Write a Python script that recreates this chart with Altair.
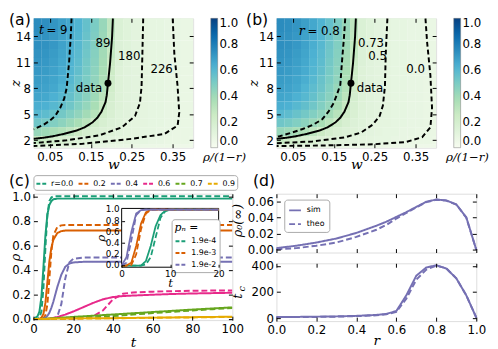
import altair as alt
import pandas as pd

SANS = "DejaVu Sans"
SERIF = "DejaVu Serif"
DARK2 = ["#1b9e77", "#d95f02", "#7570b3", "#e7298a", "#66a61e", "#e6ab02"]
GNBU = ["#f7fcf0", "#e0f3db", "#ccebc5", "#a8ddb5", "#7bccc4", "#4eb3d3", "#2b8cbe", "#0868ac", "#084081"]
GNBU_STOPS = [0, 0.125, 0.25, 0.375, 0.5, 0.625, 0.75, 0.875, 1.0]

# ---------------- (a)/(b): heat map of rho/(1-r) ----------------
w_centers = [0.02, 0.04, 0.06, 0.08, 0.10, 0.12, 0.14, 0.16, 0.18, 0.20,
             0.22, 0.24, 0.26, 0.28, 0.30, 0.32, 0.34, 0.36, 0.38, 0.40]
z_levels = [16, 15, 14, 13, 12, 11, 10, 9, 8, 7, 6, 5, 4, 3, 2, 1]
heat_rows = [
    [0.75, 0.74, 0.72, 0.69, 0.66, 0.62, 0.56, 0.50, 0.42, 0.30, 0.16, 0.13, 0.11, 0.10, 0.09, 0.09, 0.08, 0.08, 0.07, 0.07],
    [0.75, 0.74, 0.72, 0.69, 0.66, 0.62, 0.56, 0.50, 0.42, 0.30, 0.16, 0.13, 0.11, 0.10, 0.09, 0.09, 0.08, 0.08, 0.07, 0.07],
    [0.74, 0.73, 0.71, 0.68, 0.65, 0.61, 0.55, 0.49, 0.41, 0.29, 0.16, 0.13, 0.11, 0.10, 0.09, 0.09, 0.08, 0.08, 0.07, 0.07],
    [0.74, 0.73, 0.71, 0.68, 0.64, 0.60, 0.54, 0.48, 0.40, 0.28, 0.15, 0.13, 0.11, 0.10, 0.09, 0.09, 0.08, 0.08, 0.07, 0.07],
    [0.73, 0.72, 0.70, 0.67, 0.63, 0.59, 0.53, 0.47, 0.39, 0.27, 0.15, 0.13, 0.11, 0.10, 0.09, 0.09, 0.08, 0.08, 0.07, 0.07],
    [0.72, 0.71, 0.69, 0.66, 0.62, 0.58, 0.52, 0.46, 0.38, 0.25, 0.15, 0.12, 0.11, 0.10, 0.09, 0.09, 0.08, 0.08, 0.07, 0.07],
    [0.71, 0.70, 0.68, 0.65, 0.61, 0.57, 0.51, 0.45, 0.37, 0.24, 0.14, 0.12, 0.11, 0.10, 0.09, 0.09, 0.08, 0.08, 0.07, 0.07],
    [0.70, 0.69, 0.67, 0.64, 0.60, 0.55, 0.50, 0.44, 0.36, 0.23, 0.14, 0.12, 0.11, 0.10, 0.09, 0.09, 0.08, 0.08, 0.07, 0.07],
    [0.69, 0.68, 0.66, 0.62, 0.58, 0.54, 0.48, 0.42, 0.34, 0.22, 0.14, 0.12, 0.11, 0.10, 0.09, 0.09, 0.08, 0.08, 0.07, 0.07],
    [0.67, 0.66, 0.63, 0.60, 0.56, 0.51, 0.46, 0.40, 0.31, 0.20, 0.14, 0.12, 0.11, 0.10, 0.09, 0.09, 0.08, 0.08, 0.07, 0.07],
    [0.64, 0.63, 0.60, 0.57, 0.53, 0.48, 0.43, 0.37, 0.27, 0.18, 0.14, 0.12, 0.11, 0.10, 0.09, 0.09, 0.08, 0.08, 0.07, 0.07],
    [0.60, 0.58, 0.55, 0.52, 0.48, 0.44, 0.39, 0.32, 0.22, 0.17, 0.13, 0.12, 0.11, 0.10, 0.09, 0.09, 0.08, 0.08, 0.07, 0.07],
    [0.53, 0.51, 0.48, 0.45, 0.41, 0.37, 0.31, 0.23, 0.18, 0.15, 0.13, 0.11, 0.10, 0.10, 0.09, 0.09, 0.08, 0.08, 0.07, 0.07],
    [0.42, 0.40, 0.37, 0.34, 0.30, 0.25, 0.20, 0.17, 0.15, 0.14, 0.12, 0.11, 0.10, 0.09, 0.09, 0.08, 0.08, 0.07, 0.07, 0.07],
    [0.28, 0.24, 0.21, 0.19, 0.17, 0.15, 0.14, 0.13, 0.12, 0.11, 0.10, 0.10, 0.09, 0.09, 0.08, 0.08, 0.07, 0.07, 0.07, 0.06],
    [0.10, 0.10, 0.09, 0.09, 0.09, 0.08, 0.08, 0.08, 0.08, 0.07, 0.07, 0.07, 0.07, 0.06, 0.06, 0.06, 0.06, 0.05, 0.05, 0.05],
]

# solid "data" contour (shared by both panels)
data_w = [0.204, 0.202, 0.197, 0.192, 0.189, 0.186, 0.176, 0.166, 0.154, 0.135, 0.115, 0.085, 0.058, 0.035, 0.010]
data_z = [16.05, 13.9, 10.85, 8.58, 7.2, 6.4, 5.3, 4.6, 4.06, 3.5, 3.12, 2.75, 2.47, 2.3, 2.17]
# (a) time contours
t9_w = [0.103, 0.101, 0.097, 0.094, 0.091, 0.085, 0.076, 0.063, 0.048, 0.035, 0.010]
t9_z = [16.05, 14.0, 11.0, 9.5, 8.0, 6.8, 5.8, 4.8, 4.2, 3.8, 3.25]
t180_w = [0.278, 0.276, 0.274, 0.270, 0.258, 0.226, 0.170, 0.091, 0.010]
t180_z = [16.05, 12.0, 8.2, 6.3, 4.8, 3.5, 2.56, 2.0, 1.68]
t226_w = [0.350, 0.354, 0.362, 0.366, 0.362, 0.330, 0.250, 0.130, 0.010]
t226_z = [16.05, 12.0, 8.2, 5.2, 3.7, 2.74, 2.17, 1.6, 1.34]
# (b) r contours
r08_w = [0.178, 0.175, 0.170, 0.166, 0.158, 0.150, 0.137, 0.122, 0.100, 0.074, 0.045, 0.018, 0.010]
r08_z = [16.05, 13.9, 11.0, 8.4, 7.3, 6.32, 5.3, 4.43, 3.8, 3.3, 2.85, 2.47, 2.42]
r05_w = [0.281, 0.277, 0.275, 0.270, 0.262, 0.245, 0.217, 0.177, 0.098, 0.010]
r05_z = [16.05, 12.0, 8.2, 6.0, 4.8, 3.8, 2.9, 2.34, 1.87, 1.66]
r00_w = [0.374, 0.378, 0.386, 0.390, 0.386, 0.366, 0.326, 0.246, 0.120, 0.010]
r00_z = [16.05, 13.3, 9.5, 5.75, 3.49, 2.36, 1.8, 1.54, 1.40, 1.34]

dot_w = [0.192]
dot_z = [8.58]

a_ital = ["t"]; a_ital_w = [0.030]; a_ital_z = [14.7]
a_lab = ["= 9", "89", "180", "226"]
a_lab_w = [0.0674, 0.180, 0.244, 0.323]
a_lab_z = [14.7, 13.22, 11.75, 10.17]
a_data_w = [0.178]; a_data_z = [8.0]

b_ital = ["r"]; b_ital_w = [0.072]; b_ital_z = [14.58]
b_lab = ["= 0.8", "0.73", "0.5", "0.0"]
b_lab_w = [0.1253, 0.241, 0.257, 0.350]
b_lab_z = [14.58, 13.22, 11.75, 10.17]
b_data_w = [0.206]; b_data_z = [8.0]

# ---------------- (c): rho(t) ----------------
t_main = [0, 2, 3, 4, 5, 6, 7, 8, 9, 10, 12, 14, 16, 18, 20, 25, 30, 35, 40, 45, 50, 60, 70, 80, 90, 100]
r_labels = ["r=0.0", "0.2", "0.4", "0.6", "0.7", "0.9"]
sim_c = [
    [0, 0.02, 0.06, 0.18, 0.42, 0.68, 0.85, 0.93, 0.96, 0.975, 0.98, 0.98, 0.98, 0.98, 0.98, 0.98, 0.98, 0.98, 0.98, 0.98, 0.98, 0.98, 0.98, 0.98, 0.98, 0.98],
    [0, 0, 0, 0.01, 0.04, 0.13, 0.30, 0.47, 0.58, 0.645, 0.70, 0.715, 0.72, 0.72, 0.72, 0.72, 0.72, 0.72, 0.72, 0.72, 0.72, 0.72, 0.72, 0.72, 0.72, 0.72],
    [0, 0, 0, 0, 0, 0.01, 0.025, 0.05, 0.09, 0.14, 0.26, 0.36, 0.425, 0.45, 0.46, 0.465, 0.465, 0.465, 0.465, 0.465, 0.465, 0.465, 0.465, 0.465, 0.465, 0.465],
    [0, 0, 0, 0, 0, 0, 0, 0.002, 0.005, 0.008, 0.015, 0.025, 0.035, 0.048, 0.06, 0.095, 0.13, 0.16, 0.178, 0.186, 0.19, 0.197, 0.203, 0.207, 0.21, 0.213],
    [0, 0, 0, 0, 0.001, 0.002, 0.003, 0.004, 0.005, 0.006, 0.008, 0.01, 0.012, 0.014, 0.016, 0.021, 0.026, 0.031, 0.036, 0.041, 0.046, 0.056, 0.066, 0.076, 0.085, 0.094],
    [0, 0, 0, 0, 0, 0, 0, 0.001, 0.001, 0.001, 0.002, 0.002, 0.002, 0.003, 0.003, 0.004, 0.005, 0.005, 0.006, 0.007, 0.008, 0.01, 0.012, 0.014, 0.016, 0.018],
]
theo_c = [
    [0, 0, 0.01, 0.06, 0.25, 0.58, 0.85, 0.96, 0.99, 1.0, 1.0, 1.0, 1.0, 1.0, 1.0, 1.0, 1.0, 1.0, 1.0, 1.0, 1.0, 1.0, 1.0, 1.0, 1.0, 1.0],
    [0, 0, 0, 0, 0.005, 0.03, 0.12, 0.33, 0.55, 0.68, 0.75, 0.762, 0.765, 0.765, 0.765, 0.765, 0.765, 0.765, 0.765, 0.765, 0.765, 0.765, 0.765, 0.765, 0.765, 0.765],
    [0, 0, 0, 0, 0, 0, 0, 0, 0, 0, 0.02, 0.12, 0.33, 0.46, 0.49, 0.50, 0.50, 0.50, 0.50, 0.50, 0.50, 0.50, 0.50, 0.50, 0.50, 0.50],
    [0, 0, 0, 0, 0, 0, 0, 0, 0, 0, 0, 0, 0, 0, 0.001, 0.005, 0.02, 0.07, 0.16, 0.205, 0.215, 0.222, 0.226, 0.229, 0.231, 0.232],
    [0, 0, 0, 0, 0, 0, 0, 0, 0, 0, 0.002, 0.003, 0.004, 0.005, 0.006, 0.009, 0.013, 0.018, 0.023, 0.029, 0.035, 0.047, 0.058, 0.069, 0.079, 0.088],
    [0, 0, 0, 0, 0, 0, 0, 0, 0, 0, 0.001, 0.001, 0.001, 0.002, 0.002, 0.003, 0.004, 0.004, 0.005, 0.006, 0.007, 0.009, 0.011, 0.012, 0.014, 0.016],
]
# inset
t_in = [0, 1, 2, 3, 4, 5, 6, 7, 8, 9, 10, 11, 12, 14, 16, 18, 20]
pn_labels = ["1.9e-4", "1.9e-3", "1.9e-2"]
pn_colors = ["#1b9e77", "#d95f02", "#7570b3"]
sim_in = [
    [0, 0, 0, 0, 0, 0.08, 0.35, 0.70, 0.90, 0.98, 1, 1, 1, 1, 1, 1, 1],
    [0, 0, 0.05, 0.35, 0.75, 0.95, 1, 1, 1, 1, 1, 1, 1, 1, 1, 1, 1],
    [0, 0.15, 0.60, 0.93, 0.99, 1, 1, 1, 1, 1, 1, 1, 1, 1, 1, 1, 1],
]
theo_in = [
    [0, 0, 0, 0, 0, 0.02, 0.15, 0.50, 0.85, 0.97, 1, 1, 1, 1, 1, 1, 1],
    [0, 0, 0.01, 0.20, 0.65, 0.93, 0.99, 1, 1, 1, 1, 1, 1, 1, 1, 1, 1],
    [0, 0.05, 0.45, 0.90, 0.99, 1, 1, 1, 1, 1, 1, 1, 1, 1, 1, 1, 1],
]
inset_t_dom = [0, 20]
inset_rho_dom = [-0.03, 1.02]
inset_rho_ticks = [0.0, 0.2, 0.4, 0.6, 0.8, 1.0]
inset_rho_tick_text = ["0.0", "0.2", "0.4", "0.6", "0.8", "1.0"]

# ---------------- (d) ----------------
r_d = [0, 0.1, 0.2, 0.3, 0.4, 0.5, 0.55, 0.6, 0.65, 0.7, 0.75, 0.8, 0.85, 0.9, 0.95, 1.0]
rho_sim = [0.002, 0.005, 0.009, 0.014, 0.021, 0.030, 0.035, 0.041, 0.047, 0.0535, 0.060, 0.0628, 0.0616, 0.0567, 0.0405, 0.0]
rho_theo = [0.0005, 0.002, 0.005, 0.009, 0.016, 0.025, 0.031, 0.039, 0.046, 0.053, 0.0595, 0.0625, 0.0614, 0.0565, 0.040, 0.0]
tc_sim = [10, 10, 12, 14, 18, 25, 33, 55, 175, 325, 388, 405, 380, 305, 175, 5]
tc_theo = [8, 9, 10, 12, 16, 22, 30, 48, 150, 295, 372, 402, 382, 305, 175, 5]

# ---------------- sizes ----------------
WA, HA = 163, 132
WC, HC = 203, 129
WD, HD1, HD2 = 204, 60, 59
TICK = 4


def ax_left(values, fmt, title, tx, ty, xpos=0, tick=TICK, fs=12, tfs=14, lp=3, labels=True):
    off = -(xpos + tick)
    return alt.Axis(values=values, format=fmt, title=title, orient="left", offset=off,
                    tickSize=tick, domain=False, grid=False, labels=labels, labelPadding=lp,
                    labelFontSize=fs, labelFont=SANS, labelFlush=False, labelOverlap=False,
                    labelColor="black", tickColor="black", zindex=1,
                    titleX=tx - (xpos + tick), titleY=ty, titleAngle=270, titleAlign="center",
                    titleBaseline="middle", titleFont=SERIF, titleFontStyle="italic",
                    titleFontWeight="normal", titleFontSize=tfs, titleColor="black")


def ax_bottom(values, fmt, title, tx, ty, height, ypos=None, tick=TICK, fs=12, tfs=14, lp=4, labels=True):
    if ypos is None:
        ypos = height
    off = ypos - tick - height
    gy = ypos - tick
    kw = dict(values=values, format=fmt, orient="bottom", offset=off, tickSize=tick,
              domain=False, grid=False, labels=labels, labelPadding=lp, labelFontSize=fs,
              labelFont=SANS, labelFlush=False, labelOverlap=False, labelColor="black",
              tickColor="black", zindex=1)
    if title:
        kw.update(title=title, titleX=tx, titleY=ty - gy, titleAlign="center", titleBaseline="middle",
                  titleFont=SERIF, titleFontStyle="italic", titleFontWeight="normal",
                  titleFontSize=tfs, titleColor="black")
    else:
        kw.update(title=None)
    return alt.Axis(**kw)


def ax_far(orient, values):
    # inward ticks on the top / right frame edges
    return alt.Axis(orient=orient, values=values, offset=-TICK, tickSize=TICK, labels=False,
                    domain=False, grid=False, title=None, zindex=1, tickColor="black")


def far_ticks(xscale, yscale, xvals, yvals):
    xd = xscale.domain
    yd = yscale.domain
    df = pd.DataFrame({"x": list(xd), "y": list(yd)})
    return alt.Chart(df).mark_point(opacity=0, size=1).encode(
        x=alt.X("x:Q", scale=xscale, axis=ax_far("top", xvals)),
        y=alt.Y("y:Q", scale=yscale, axis=ax_far("right", yvals)),
    )


def letter(txt, dx, dy):
    return alt.Chart(pd.DataFrame({"s": [txt]})).mark_text(
        align="left", baseline="top", fontSize=16, font=SANS, color="black"
    ).encode(x=alt.value(dx), y=alt.value(dy), text="s:N")


# ---------- heat panels ----------
cells = pd.DataFrame([
    dict(w0=w - 0.0102, w1=w + 0.0102, z0=z - 0.51, z1=z + 0.51, v=heat_rows[i][j])
    for i, z in enumerate(z_levels) for j, w in enumerate(w_centers)
])
XW = alt.Scale(domain=[0.01, 0.40], nice=False, zero=False)
YZ = alt.Scale(domain=[1.15, 16.05], nice=False, zero=False)
CSC = alt.Scale(domain=GNBU_STOPS, range=GNBU, interpolate="rgb")
W_TICKS = [0.05, 0.15, 0.25, 0.35]
Z_TICKS = [2, 5, 8, 11, 14]


def cdf(name, ws, zs, style):
    return pd.DataFrame({"w": ws, "z": zs, "idx": list(range(len(ws))), "name": name, "style": style})


def heat_panel(conts, ital, ital_w, ital_z, labs, labs_w, labs_z, dw, dz, dalign, let, let_dx, ztx):
    rect = alt.Chart(cells).mark_rect(clip=True, strokeWidth=0).encode(
        x=alt.X("w0:Q", scale=XW, axis=ax_bottom(W_TICKS, ".2f", "w", WA / 2, 149, HA)),
        x2="w1:Q",
        y=alt.Y("z0:Q", scale=YZ, axis=ax_left(Z_TICKS, "d", "z", ztx, 66, tfs=13)),
        y2="z1:Q",
        color=alt.Color("v:Q", scale=CSC, legend=alt.Legend(
            type="gradient", orient="none", legendX=173, legendY=0, direction="vertical",
            gradientLength=HA, gradientThickness=7, values=[0, 0.2, 0.4, 0.6, 0.8, 1.0], format=".1f",
            labelFontSize=12, labelFont=SANS, labelOffset=2, labelBaseline="middle",
            labelColor="black", gradientStrokeColor="#777", gradientStrokeWidth=0.5,
            title="\u03c1/(1\u2212r)", titleOrient="bottom", titleAnchor="middle",
            titleFont=SERIF, titleFontStyle="italic", titleFontWeight="normal",
            titleFontSize=12, titlePadding=5, titleColor="black", padding=0)),
    )
    cont_df = pd.concat(conts, ignore_index=True)
    XN = alt.X("w:Q", scale=XW, axis=None)
    YN = alt.Y("z:Q", scale=YZ, axis=None)
    lines = alt.Chart(cont_df).mark_line(color="black", strokeWidth=2, clip=True).encode(
        x=XN, y=YN, detail="name:N", order="idx:Q",
        strokeDash=alt.StrokeDash("style:N", scale=alt.Scale(domain=["solid", "dashed"], range=[[1, 0], [5, 3]]), legend=None),
    )
    dot = alt.Chart(pd.DataFrame({"w": dot_w, "z": dot_z})).mark_point(
        filled=True, color="black", size=50, opacity=1).encode(x=XN, y=YN)
    it = alt.Chart(pd.DataFrame({"w": ital_w, "z": ital_z, "s": ital})).mark_text(
        font=SERIF, fontStyle="italic", fontSize=13, color="black", baseline="middle").encode(
        x=XN, y=YN, text="s:N")
    pl = alt.Chart(pd.DataFrame({"w": labs_w, "z": labs_z, "s": labs})).mark_text(
        font=SANS, fontSize=12, color="black", baseline="middle").encode(
        x=XN, y=YN, text="s:N")
    dl = alt.Chart(pd.DataFrame({"w": dw, "z": dz, "s": ["data"]})).mark_text(
        font=SANS, fontSize=12, color="black", baseline="middle", align=dalign).encode(
        x=XN, y=YN, text="s:N")
    return alt.layer(rect, lines, dot, it, pl, dl, far_ticks(XW, YZ, W_TICKS, Z_TICKS),
                     letter(let, let_dx, -6)).resolve_axis(x="independent", y="independent").properties(width=WA, height=HA)


panel_a = heat_panel(
    [cdf("d", data_w, data_z, "solid"), cdf("t9", t9_w, t9_z, "dashed"),
     cdf("t180", t180_w, t180_z, "dashed"), cdf("t226", t226_w, t226_z, "dashed")],
    a_ital, a_ital_w, a_ital_z, a_lab, a_lab_w, a_lab_z, a_data_w, a_data_z, "right", "(a)", -25, -18.5)
panel_b = heat_panel(
    [cdf("d", data_w, data_z, "solid"), cdf("r08", r08_w, r08_z, "dashed"),
     cdf("r05", r05_w, r05_z, "dashed"), cdf("r00", r00_w, r00_z, "dashed")],
    b_ital, b_ital_w, b_ital_z, b_lab, b_lab_w, b_lab_z, b_data_w, b_data_z, "left", "(b)", -31, -23)

# ---------- panel (c) ----------
rows = []
for k, lab in enumerate(r_labels):
    for t, a, b in zip(t_main, sim_c[k], theo_c[k]):
        rows.append(dict(t=t, rho=a, lab=lab, kind="sim"))
        rows.append(dict(t=t, rho=b, lab=lab, kind="theo"))
df_c = pd.DataFrame(rows)
DASH = alt.Scale(domain=["sim", "theo"], range=[[1, 0], [6, 3]])
XT = alt.Scale(domain=[0, 100], nice=False)
YR = alt.Scale(domain=[-0.01, 1.02], nice=False, zero=False)
T_TICKS = [0, 20, 40, 60, 80, 100]
RHO_TICKS = [0, 0.2, 0.4, 0.6, 0.8, 1.0]

main_lines = alt.Chart(df_c).mark_line(strokeWidth=2, clip=True).encode(
    x=alt.X("t:Q", scale=XT, axis=ax_bottom(T_TICKS, "d", "t", WC / 2, 152, HC)),
    y=alt.Y("rho:Q", scale=YR, axis=ax_left(RHO_TICKS, ".1f", "\u03c1", -18.5, HC / 2, tfs=13)),
    color=alt.Color("lab:N", scale=alt.Scale(domain=r_labels, range=DARK2), legend=alt.Legend(
        orient="none", legendX=0, legendY=-19, direction="horizontal", columns=6, title=None,
        symbolType="stroke", symbolDash=[4, 2], symbolStrokeWidth=2, symbolSize=121,
        labelFontSize=8, labelFont=SANS, labelColor="black", labelOffset=3, columnPadding=1,
        padding=2, strokeColor="#aaaaaa", fillColor="white", cornerRadius=3)),
    strokeDash=alt.StrokeDash("kind:N", scale=DASH, legend=None),
)

rows = []
for k, lab in enumerate(pn_labels):
    for t, a, b in zip(t_in, sim_in[k], theo_in[k]):
        rows.append(dict(t=t, rho=a, lab=lab, kind="sim"))
        rows.append(dict(t=t, rho=b, lab=lab, kind="theo"))
df_in = pd.DataFrame(rows)
IX = alt.Scale(domain=inset_t_dom, range=[90, 189], nice=False)
IY = alt.Scale(domain=inset_rho_dom, range=[75, 15], nice=False, zero=False)
box_df = pd.DataFrame({"x0": [inset_t_dom[0]], "x1": [inset_t_dom[1]],
                       "y0": [inset_rho_dom[0]], "y1": [inset_rho_dom[1]]})
inset_bg = alt.Chart(box_df).mark_rect(fill="white", stroke="black", strokeWidth=1).encode(
    x=alt.X("x0:Q", scale=IX, axis=ax_bottom([0, 10, 20], "d", "t", 139.5, 91, HC, ypos=75, tick=3, fs=9, tfs=12, lp=2)),
    x2="x1:Q",
    y=alt.Y("y0:Q", scale=IY, axis=ax_left(RHO_TICKS, ".1f", "\u03c1", 69, 45, xpos=90, tick=3, fs=9, tfs=12, lp=2, labels=False)),
    y2="y1:Q",
)
inset_ylab = alt.Chart(pd.DataFrame({
    "t": [inset_t_dom[0]] * len(inset_rho_ticks), "rho": inset_rho_ticks, "s": inset_rho_tick_text,
})).mark_text(align="right", baseline="middle", dx=-2, fontSize=9, font=SANS, color="black").encode(
    x=alt.X("t:Q", scale=IX), y=alt.Y("rho:Q", scale=IY), text="s:N")
inset_lines = alt.Chart(df_in).mark_line(strokeWidth=1.8).encode(
    x=alt.X("t:Q", scale=IX), y=alt.Y("rho:Q", scale=IY),
    color=alt.Color("lab:N", scale=alt.Scale(domain=pn_labels, range=pn_colors), legend=alt.Legend(
        orient="none", legendX=141, legendY=26, direction="vertical", title="p\u2099 =",
        titleFont=SERIF, titleFontStyle="italic", titleFontWeight="normal", titleFontSize=11,
        titleColor="black", titlePadding=2,
        symbolType="stroke", symbolDash=[4, 2], symbolStrokeWidth=2, symbolSize=121,
        labelFontSize=8, labelFont=SANS, labelColor="black", labelOffset=4, rowPadding=1,
        padding=3, strokeColor="#aaaaaa", fillColor="white", cornerRadius=3)),
    strokeDash=alt.StrokeDash("kind:N", scale=DASH, legend=None),
)
inset = alt.layer(inset_bg, inset_lines, inset_ylab)
panel_c = alt.layer(main_lines, far_ticks(XT, YR, T_TICKS, RHO_TICKS), inset, letter("(c)", -25, -21)).resolve_scale(
    x="independent", y="independent", color="independent").properties(width=WC, height=HC)

# ---------- panel (d) ----------
df_d = pd.DataFrame({
    "r": r_d * 2,
    "rho": rho_sim + rho_theo,
    "tc": tc_sim + tc_theo,
    "kind": ["sim"] * len(r_d) + ["theo"] * len(r_d),
})
XR = alt.Scale(domain=[0, 1], nice=False)
R_TICKS = [0, 0.2, 0.4, 0.6, 0.8, 1.0]
Y0 = alt.Scale(domain=[-0.0035, 0.07], nice=False, zero=False)
Y0_TICKS = [0, 0.02, 0.04, 0.06]
YT = alt.Scale(domain=[-22, 420], nice=False, zero=False)
YT_TICKS = [0, 200, 400]
d1 = alt.layer(
    alt.Chart(df_d).mark_line(strokeWidth=2, color="#7570b3").encode(
        x=alt.X("r:Q", scale=XR, axis=ax_bottom(R_TICKS, ".1f", None, 0, 0, HD1, labels=False)),
        y=alt.Y("rho:Q", scale=Y0, axis=ax_left(Y0_TICKS, ".2f", "\u03c1\u2080(\u221e)", -40, 27, tfs=13)),
        strokeDash=alt.StrokeDash("kind:N", scale=DASH, legend=alt.Legend(
            orient="none", legendX=8, legendY=6, title=None, symbolType="stroke",
            symbolStrokeColor="#7570b3", symbolStrokeWidth=2, symbolSize=144,
            labelFontSize=8, labelFont=SANS, labelColor="black", labelOffset=5, rowPadding=3,
            padding=4, strokeColor="#aaaaaa", fillColor="white", cornerRadius=3)),
    ),
    far_ticks(XR, Y0, R_TICKS, Y0_TICKS),
    letter("(d)", -24, -21),
).resolve_axis(x="independent", y="independent").properties(width=WD, height=HD1)

sub_c = alt.Chart(pd.DataFrame({"s": ["c"]})).mark_text(
    font=SERIF, fontStyle="italic", fontSize=10, angle=270, color="black").encode(
    x=alt.value(-35), y=alt.value(26), text="s:N")
d2 = alt.layer(
    alt.Chart(df_d).mark_line(strokeWidth=2, color="#7570b3").encode(
        x=alt.X("r:Q", scale=XR, axis=ax_bottom(R_TICKS, ".1f", "r", WD / 2, 79, HD2)),
        y=alt.Y("tc:Q", scale=YT, axis=ax_left(YT_TICKS, "d", "t", -40, 33, tfs=13)),
        strokeDash=alt.StrokeDash("kind:N", scale=DASH, legend=None),
    ),
    far_ticks(XR, YT, R_TICKS, YT_TICKS),
    sub_c,
).resolve_axis(x="independent", y="independent").properties(width=WD, height=HD2)

RES = dict(x="independent", y="independent", color="independent", strokeDash="independent")
col_d = alt.vconcat(d1, d2, spacing=11, bounds="flush").resolve_scale(**RES)
chart = alt.concat(panel_a, panel_b, panel_c, col_d, columns=2,
                   spacing={"row": 47, "column": 45}, bounds="flush").resolve_scale(**RES).properties(
    padding={"left": 0, "top": 0, "right": 0, "bottom": 0}, background="white"
).configure_view(stroke="black", strokeWidth=1).configure(font=SANS)

chart.save("out.html", embed_options={"renderer": "svg", "actions": False})
